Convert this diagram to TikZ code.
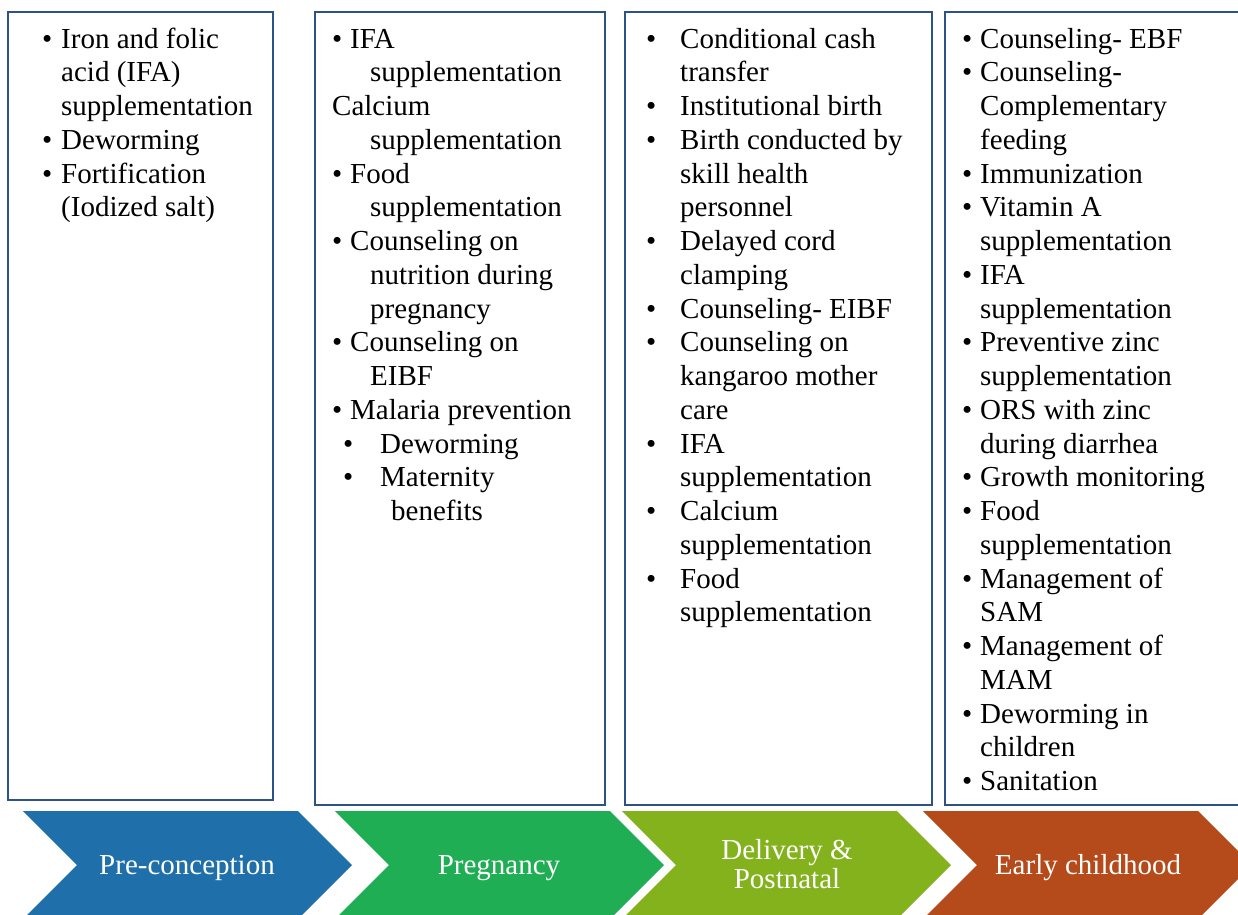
\documentclass[tikz,border=0pt]{standalone}
\usepackage{fontspec}
\setmainfont{Liberation Serif}
\definecolor{boxblue}{RGB}{44,82,136}
\definecolor{preblue}{RGB}{31,111,170}
\definecolor{preggreen}{RGB}{31,174,84}
\definecolor{delolive}{RGB}{131,178,29}
\definecolor{earlyrust}{RGB}{181,74,26}
\newcommand\bul[1]{\makebox[#1][l]{\textbullet}}
\newcommand\ind[1]{\hspace*{#1}}

\begin{document}
\begin{tikzpicture}[x=1pt,y=-1pt,
    stagebox/.style ={draw=boxblue, line width=2.5pt},
    itemlist/.style ={anchor=north west, align=left, inner sep=0pt,
      font=\fontsize{29}{33.75}\selectfont},
    phase/.style ={text=white, align=center, inner sep=0pt,
      font=\fontsize{29}{29}\selectfont}]
   \useasboundingbox (0,0) rectangle (1238,914);

   % boxes
   \draw[stagebox] (8,12) rectangle (273,800);
   \draw[stagebox] (315,12) rectangle (605,805);
   \draw[stagebox] (625,12) rectangle (932,805);
   \draw[stagebox] (945,12) rectangle (1250,805);

   % chevrons
   \foreach \x/\c in {23/preblue,335/preggreen,622/delolive,923/earlyrust}
     \fill[\c] (\x,811) -- ++(275,0) -- ++(54,54) -- ++(-54,54)
       -- ++(-275,0) -- ++(54,-54) -- cycle;

   \node[phase, anchor=base] (pre) at (187,874) {Pre-conception};
   \node[phase, anchor=base] (preg) at (499,874) {Pregnancy};
   \node[phase, anchor=north] (deliv) at (787,838.7) {\strut Delivery \&\\Postnatal};
   \node[phase, anchor=base] (early) at (1088,874) {Early childhood};

   % lists
   \node[itemlist] (prelist) at (42,24.4) {\strut\bul{19pt}Iron and folic\\
     \ind{19pt}acid (IFA)\\
     \ind{19pt}supplementation\\
     \bul{19pt}Deworming\\
     \bul{19pt}Fortification\\
     \ind{19pt}(Iodized salt)};

   \node[itemlist] (preglist) at (332,24.4) {\strut\bul{18pt}IFA\\
     \ind{38pt}supplementation\\
     Calcium\\
     \ind{38pt}supplementation\\
     \bul{18pt}Food\\
     \ind{38pt}supplementation\\
     \bul{18pt}Counseling on\\
     \ind{38pt}nutrition during\\
     \ind{38pt}pregnancy\\
     \bul{18pt}Counseling on\\
     \ind{38pt}EIBF\\
     \bul{18pt}Malaria prevention\\
     \ind{11pt}\bul{37pt}Deworming\\
     \ind{11pt}\bul{37pt}Maternity\\
     \ind{59pt}benefits};

   \node[itemlist] (delivlist) at (646,24.4) {\strut\bul{34pt}Conditional cash\\
     \ind{34pt}transfer\\
     \bul{34pt}Institutional birth\\
     \bul{34pt}Birth conducted by\\
     \ind{34pt}skill health\\
     \ind{34pt}personnel\\
     \bul{34pt}Delayed cord\\
     \ind{34pt}clamping\\
     \bul{34pt}Counseling- EIBF\\
     \bul{34pt}Counseling on\\
     \ind{34pt}kangaroo mother\\
     \ind{34pt}care\\
     \bul{34pt}IFA\\
     \ind{34pt}supplementation\\
     \bul{34pt}Calcium\\
     \ind{34pt}supplementation\\
     \bul{34pt}Food\\
     \ind{34pt}supplementation};

   \node[itemlist] (earlylist) at (962,24.4) {\strut\bul{18pt}Counseling- EBF\\
     \bul{18pt}Counseling-\\
     \ind{18pt}Complementary\\
     \ind{18pt}feeding\\
     \bul{18pt}Immunization\\
     \bul{18pt}Vitamin A\\
     \ind{18pt}supplementation\\
     \bul{18pt}IFA\\
     \ind{18pt}supplementation\\
     \bul{18pt}Preventive zinc\\
     \ind{18pt}supplementation\\
     \bul{18pt}ORS with zinc\\
     \ind{18pt}during diarrhea\\
     \bul{18pt}Growth monitoring\\
     \bul{18pt}Food\\
     \ind{18pt}supplementation\\
     \bul{18pt}Management of\\
     \ind{18pt}SAM\\
     \bul{18pt}Management of\\
     \ind{18pt}MAM\\
     \bul{18pt}Deworming in\\
     \ind{18pt}children\\
     \bul{18pt}Sanitation};
\end{tikzpicture}
\end{document}
